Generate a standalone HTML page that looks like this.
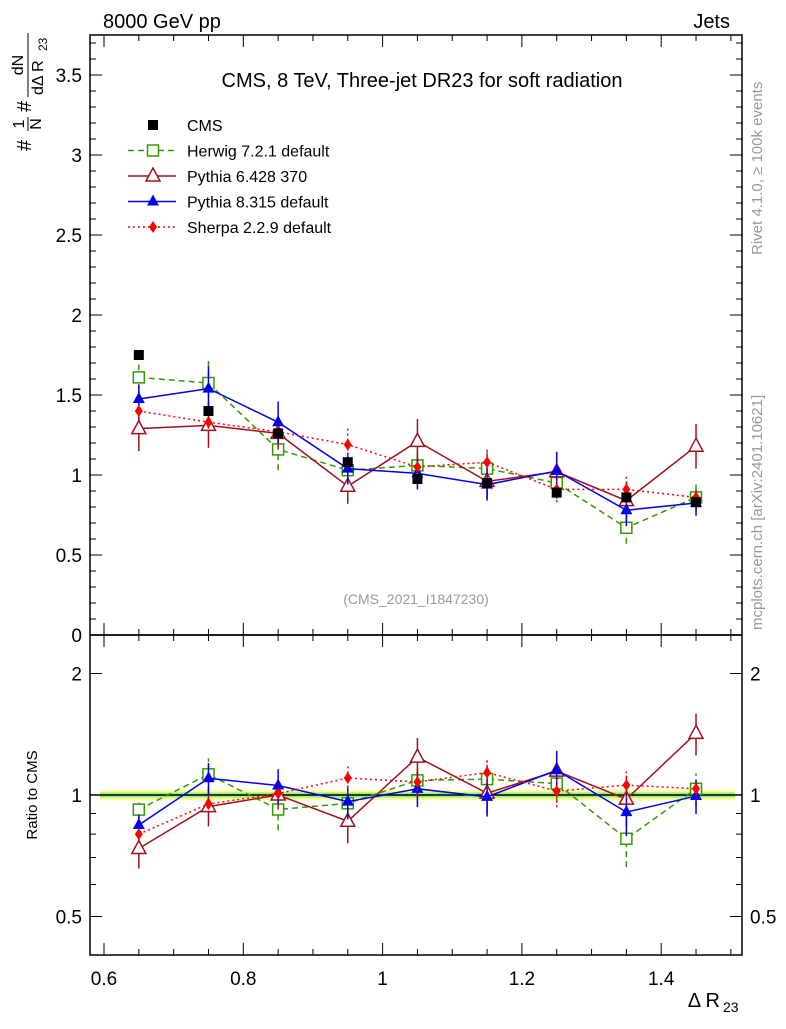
<!DOCTYPE html>
<html><head><meta charset="utf-8"><style>
body{margin:0;background:#fff;width:786px;height:1024px;overflow:hidden}
svg{font-family:"Liberation Sans",sans-serif}
</style></head><body>
<svg id="c" width="786" height="1024" xmlns="http://www.w3.org/2000/svg"></svg>
<script>
const xCenters=[0.65,0.75,0.85,0.95,1.05,1.15,1.25,1.35,1.45];
const cms=[1.75,1.40,1.26,1.08,0.975,0.95,0.89,0.86,0.83];
const cmsErr=[0.02,0.02,0.02,0.02,0.02,0.02,0.02,0.02,0.02];
const herwig=[1.61,1.575,1.16,1.03,1.06,1.04,0.95,0.67,0.86];
const herwigErr=[0.08,0.15,0.13,0.08,0.08,0.12,0.1,0.1,0.08];
const py6=[1.29,1.31,1.26,0.93,1.21,0.96,1.02,0.84,1.18];
const py6Err=[0.14,0.14,0.1,0.11,0.14,0.11,0.1,0.12,0.14];
const py8=[1.475,1.54,1.33,1.04,1.01,0.94,1.025,0.78,0.825];
const py8Err=[0.09,0.14,0.13,0.1,0.1,0.1,0.12,0.1,0.08];
const sherpa=[1.40,1.33,1.27,1.19,1.05,1.08,0.91,0.91,0.86];
const sherpaErr=[0.03,0.04,0.04,0.1,0.08,0.09,0.08,0.09,0.06];
const xTicks=[0.6,0.8,1,1.2,1.4];
const yTicks=[0,0.5,1,1.5,2,2.5,3,3.5];
const rTicks=[0.5,1,2];
const NS="http://www.w3.org/2000/svg";
const svg=document.getElementById('c');
const L=90,R=742,T=35,M=635,B=955;
const X=v=>104+(v-0.6)*696.5;
const Y=v=>635-v*160;
const RY=v=>795-Math.log2(v)*121.5;
function el(t,a,p){const e=document.createElementNS(NS,t);for(const k in a)e.setAttribute(k,a[k]);(p||svg).appendChild(e);return e;}
function txt(x,y,s,a,p){const e=el('text',Object.assign({x:x,y:y},a),p);e.textContent=s;return e;}
// ratio band
const band=el('rect',{x:X(0.6)-4,y:RY(1.03),width:X(1.5)-X(0.6)+8,height:RY(0.97)-RY(1.03),fill:'#ffff99'});


const band2=el('rect',{x:X(0.6)-4,y:RY(1.015),width:X(1.5)-X(0.6)+8,height:RY(0.985)-RY(1.015),fill:'#99ee88'});


el('line',{x1:L,x2:R,y1:RY(1),y2:RY(1),stroke:'#000','stroke-width':1.5});
// frames
el('rect',{x:L,y:T,width:R-L,height:M-T,fill:'none',stroke:'#000','stroke-width':1.5});
el('rect',{x:L,y:M,width:R-L,height:B-M,fill:'none',stroke:'#000','stroke-width':1.5});
// x ticks
for(let v=0.6;v<=1.501;v+=0.05){const maj=Math.abs(v*10-Math.round(v*10))<1e-6&&Math.round(v*10)%2==0;const l=maj?12:6;const x=X(v);
 [[M,-1],[T,1],[B,-1],[M,1]].forEach(([y0,d])=>el('line',{x1:x,x2:x,y1:y0,y2:y0+d*l,stroke:'#000'}));}
xTicks.forEach(v=>{const t=txt(X(v),985,String(v),{'font-size':19,'text-anchor':'middle'});});
// y ticks main
for(let v=0;v<=3.75;v+=0.1){const maj=Math.abs(v*2-Math.round(v*2))<1e-6;const l=maj?12:6;
 el('line',{x1:L,x2:L+l,y1:Y(v),y2:Y(v),stroke:'#000'});el('line',{x1:R,x2:R-l,y1:Y(v),y2:Y(v),stroke:'#000'});}
yTicks.forEach(v=>{const t=txt(82,Y(v)+7,String(v),{'font-size':19,'text-anchor':'end'});});
// ratio ticks
[0.5,0.6,0.7,0.8,0.9,1,2].forEach(v=>{const maj=rTicks.includes(v);const l=maj?12:6;el('line',{x1:L,x2:L+l,y1:RY(v),y2:RY(v),stroke:'#000'});el('line',{x1:R,x2:R-l,y1:RY(v),y2:RY(v),stroke:'#000'});});
rTicks.forEach(v=>{txt(82,RY(v)+7,String(v),{'font-size':19,'text-anchor':'end'});txt(750,RY(v)+7,String(v),{'font-size':19});});
// texts
txt(103,28,'8000 GeV pp',{'font-size':20,});
txt(730,28,'Jets',{'font-size':20,'text-anchor':'end',});
txt(422,87,'CMS, 8 TeV, Three-jet DR23 for soft radiation',{'font-size':20,'text-anchor':'middle',});
txt(416,604,'(CMS_2021_I1847230)',{'font-size':14,'fill':'#999','text-anchor':'middle',});
txt(720,1007,'Δ R',{'font-size':20,'text-anchor':'end',});
txt(723,1012,'23',{'font-size':14,});
const yt=el('g',{transform:'translate(33,155) rotate(-90)',});
txt(4,-2,'#',{'font-size':20},yt);
txt(31,-9,'1',{'font-size':16,'text-anchor':'middle'},yt);
el('line',{x1:24,x2:38,y1:-5,y2:-5,stroke:'#000'},yt);
txt(31,8,'N',{'font-size':16,'text-anchor':'middle'},yt);
txt(43,-2,'#',{'font-size':20},yt);
txt(90,-10,'dN',{'font-size':16,'text-anchor':'middle'},yt);
el('line',{x1:58,x2:122,y1:-5,y2:-5,stroke:'#000'},yt);
txt(60,10,'dΔ R',{'font-size':16},yt);
txt(104,14,'23',{'font-size':12},yt);
const rt=el('text',{transform:'translate(37,795) rotate(-90)','font-size':15,'text-anchor':'middle',});rt.textContent='Ratio to CMS';
const side1=el('text',{transform:'translate(762,255) rotate(-90)','font-size':15,fill:'#999',});side1.textContent='Rivet 4.1.0, ≥ 100k events';
const side2=el('text',{transform:'translate(762,630) rotate(-90)','font-size':15,fill:'#999',});side2.textContent='mcplots.cern.ch [arXiv:2401.10621]';
// markers
function marker(g,type,x,y,c){
 if(type=='sq')el('rect',{x:x-5,y:y-5,width:10,height:10,fill:c},g);
 if(type=='osq')el('rect',{x:x-5.5,y:y-5.5,width:11,height:11,fill:'#fff',stroke:c,'stroke-width':1.5},g);
 if(type=='otri')el('polygon',{points:`${x},${y-8} ${x-7},${y+5} ${x+7},${y+5}`,fill:'#fff',stroke:c,'stroke-width':1.5},g);
 if(type=='tri')el('polygon',{points:`${x},${y-7} ${x-6},${y+4} ${x+6},${y+4}`,fill:c},g);
 if(type=='dia')el('polygon',{points:`${x},${y-6} ${x-4},${y} ${x},${y+6} ${x+4},${y}`,fill:c},g);
}
const series=[
 {n:'herwig',v:herwig,e:herwigErr,c:'#339900',d:'6,4',m:'osq'},
 {n:'pythia6',v:py6,e:py6Err,c:'#a01020',d:'',m:'otri'},
 {n:'pythia8',v:py8,e:py8Err,c:'#0000ee',d:'',m:'tri'},
 {n:'sherpa',v:sherpa,e:sherpaErr,c:'#ff0000',d:'2,3',m:'dia'}];
function draw(s,ratio){
 const g=el('g',{});
 
 
 const yf=ratio?RY:Y;
 const vals=s.v.map((v,i)=>ratio?v/cms[i]:v);
 const errs=s.e.map((e,i)=>ratio?e/cms[i]:e);
 el('polyline',{points:xCenters.map((x,i)=>X(x)+','+yf(vals[i])).join(' '),fill:'none',stroke:s.c,'stroke-width':1.5,'stroke-dasharray':s.d},g);
 xCenters.forEach((x,i)=>{el('line',{x1:X(x),x2:X(x),y1:yf(vals[i]-errs[i]),y2:yf(vals[i]+errs[i]),stroke:s.c,'stroke-width':1.5,'stroke-dasharray':s.d},g);
  marker(g,s.m,X(x),yf(vals[i]),s.c);});
}
series.forEach(s=>draw(s,false));
const cg=el('g',{});


xCenters.forEach((x,i)=>marker(cg,'sq',X(x),Y(cms[i]),'#000'));
series.forEach(s=>draw(s,true));
// legend
const lg=el('g',{});


const items=[{l:'CMS',m:'sq',c:'#000',d:null}].concat(series.map((s,i)=>({l:['Herwig 7.2.1 default','Pythia 6.428 370','Pythia 8.315 default','Sherpa 2.2.9 default'][i],m:s.m,c:s.c,d:s.d})));
items.forEach((it,i)=>{const y=125+i*25.5;
 if(it.d!==null)el('line',{x1:128,x2:176,y1:y,y2:y,stroke:it.c,'stroke-width':1.5,'stroke-dasharray':it.d},lg);
 marker(lg,it.m,153,y,it.c);
 txt(187,y+6,it.l,{'font-size':16},lg);});
</script>
</body></html>
